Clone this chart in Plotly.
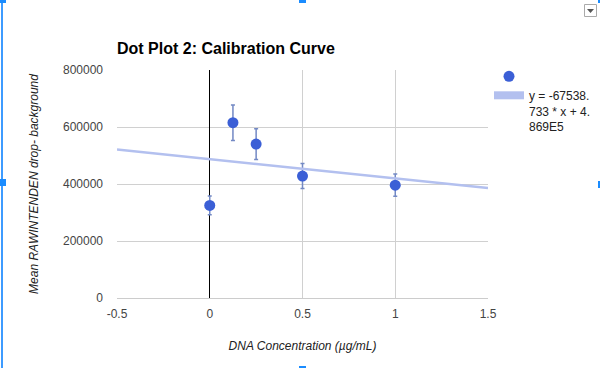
import plotly.graph_objects as go

# Data
concentration = [0, 0.125, 0.25, 0.5, 1]
mean_signal = [325000, 615000, 540000, 428000, 396000]
signal_error = [33000, 62000, 54000, 44000, 39000]

trend_slope = -67538.733
trend_intercept = 486900
trend_label = "y = -67538.<br>733 * x + 4.<br>869E5"

x_range = [-0.5, 1.5]
x_ticks = [-0.5, 0, 0.5, 1, 1.5]
x_ticktext = ["-0.5", "0", "0.5", "1", "1.5"]
y_ticks = [0, 200000, 400000, 600000, 800000]

W, H = 600, 368
ML, MR, MT, MB = 117, 112, 70, 70
PW, PH = W - ML - MR, H - MT - MB

def px(xp):
    return (xp - ML) / PW

def py(yp):
    return (H - MB - yp) / PH

def rect(x0, y0, x1, y1, color="#1a8cff"):
    return dict(type="rect", xref="paper", yref="paper", x0=px(x0), x1=px(x1), y0=py(y1), y1=py(y0),
                fillcolor=color, line=dict(width=0), layer="above")

fig = go.Figure()

fig.add_trace(go.Scatter(
    x=concentration, y=mean_signal, mode="markers",
    marker=dict(color="#3b5fd6", size=11),
    error_y=dict(type="data", array=signal_error, color="#7389c4", thickness=1.5, width=2),
    name="", showlegend=True,
))

trend_x = x_range
trend_y = [trend_slope * v + trend_intercept for v in trend_x]
fig.add_trace(go.Scatter(
    x=trend_x, y=trend_y, mode="lines",
    line=dict(color="#b3c0ef", width=2.5),
    name=trend_label, showlegend=False,
))
# legend swatch for the trendline (thick bar, as in the reference)
fig.add_trace(go.Scatter(
    x=[None], y=[None], mode="lines",
    line=dict(color="#b3c0ef", width=8),
    name=trend_label, showlegend=True,
))

shapes = [
    rect(1, 3, 3, 368, "#3d9bff"),
    rect(0, 0, 6, 3),
    rect(0, 179, 6, 186),
    rect(299, 0, 306, 3),
    rect(299, 366, 306, 368),
    rect(598, 0, 600, 3),
    rect(598, 181, 600, 188),
    # dropdown button
    dict(type="rect", xref="paper", yref="paper", x0=px(584.5), x1=px(596.5), y0=py(16.5), y1=py(4.5),
         fillcolor="white", line=dict(color="#aaaaaa", width=1)),
    dict(type="path", xref="paper", yref="paper",
         path=f"M {px(587)} {py(9)} L {px(594)} {py(9)} L {px(590.5)} {py(13)} Z",
         fillcolor="#555555", line=dict(width=0)),
]

fig.update_layout(
    width=W, height=H,
    margin=dict(l=ML, r=MR, t=MT, b=MB, autoexpand=False),
    paper_bgcolor="white", plot_bgcolor="white",
    font=dict(family="Liberation Sans, Arial, sans-serif", size=12, color="#444444"),
    title=dict(text="<b>Dot Plot 2: Calibration Curve</b>", xref="paper", x=0, xanchor="left",
               yref="container", y=1 - 48 / H, yanchor="middle",
               font=dict(size=16, color="#000000", family="Liberation Sans, Arial, sans-serif")),
    xaxis=dict(range=x_range, tickvals=x_ticks, ticktext=x_ticktext,
               showgrid=True, gridcolor="#d0d0d0", gridwidth=1,
               zeroline=True, zerolinecolor="#000000", zerolinewidth=1,
               showline=True, linecolor="#cccccc", mirror=False,
               ticks="", ticklabelstandoff=5, tickfont=dict(size=12, color="#444444"),
               title=dict(text="<i>DNA Concentration (µg/mL)</i>", standoff=21,
                          font=dict(size=12, color="#222222"))),
    yaxis=dict(range=[0, 800000], tickvals=y_ticks, ticktext=[str(v) for v in y_ticks],
               showgrid=True, gridcolor="#d0d0d0", gridwidth=1,
               zeroline=True, zerolinecolor="#333333", zerolinewidth=1.5,
               showline=False, ticks="", ticklabelstandoff=13,
               tickfont=dict(size=12, color="#444444"),
               title=dict(text="<i>Mean RAWINTENDEN drop- background</i>", standoff=21,
                          font=dict(size=12, color="#222222"))),
    legend=dict(x=px(489), xanchor="left", y=py(62), yanchor="top",
                font=dict(size=12, color="#222222"), bgcolor="rgba(0,0,0,0)",
                itemwidth=30, tracegroupgap=0, valign="top"),
    shapes=shapes,
    showlegend=True,
)

fig.write_html("out.html", config={"displayModeBar": False},
               post_script="document.body.style.margin='0';document.body.style.padding='0';")
